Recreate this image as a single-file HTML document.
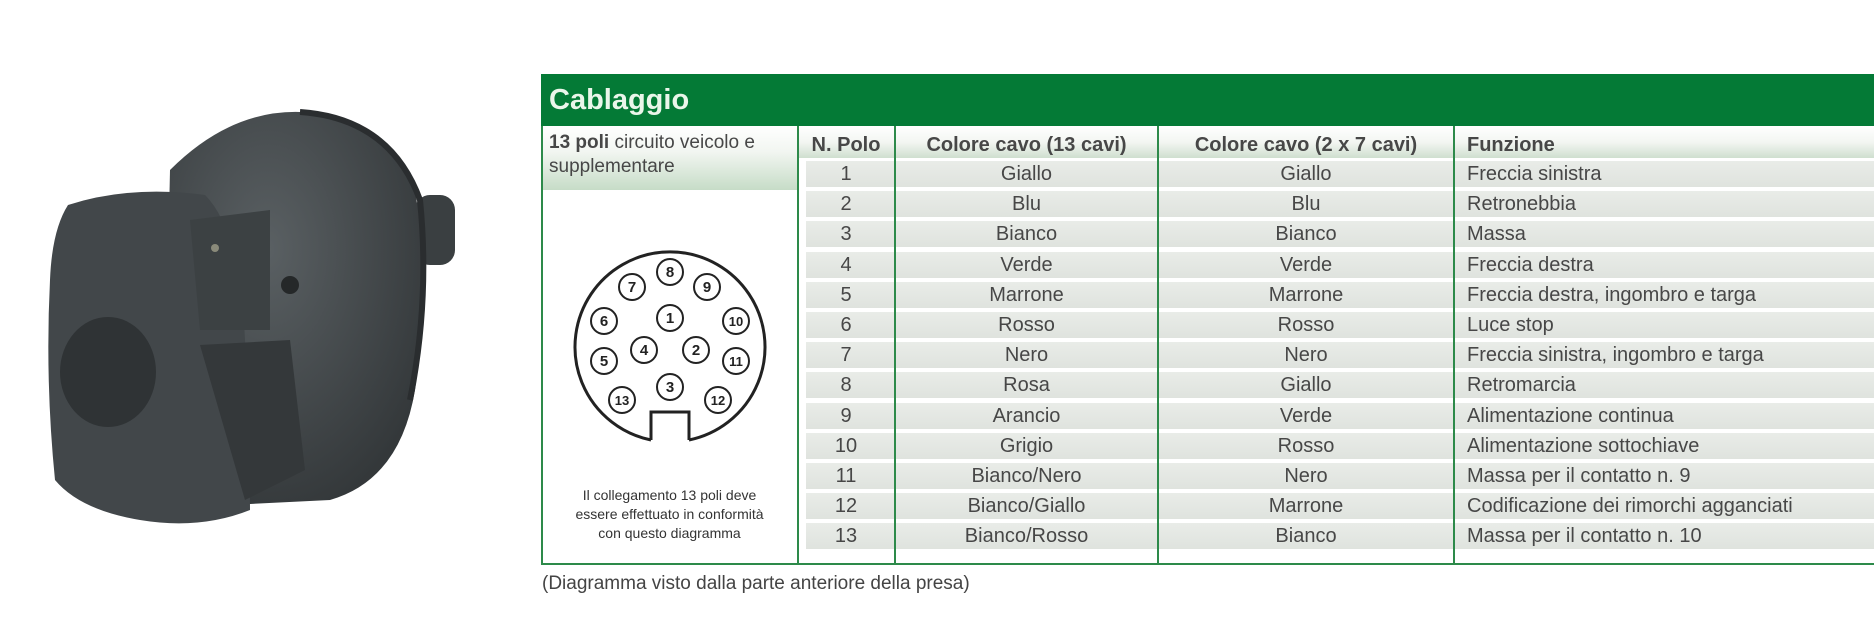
<!DOCTYPE html>
<html><head><meta charset="utf-8"><style>
*{margin:0;padding:0;box-sizing:border-box}
body{width:1874px;height:632px;background:#fff;position:relative;overflow:hidden;font-family:"Liberation Sans Narrow","Liberation Sans",sans-serif;color:#474747}
.a{position:absolute;white-space:nowrap}
.row{position:absolute;left:806px;width:1068px;height:26px;background:linear-gradient(#e9ece8,#dfe3de)}
.c{position:absolute;font-size:20px;line-height:26px;text-align:center}
.vl{position:absolute;top:126px;height:438px;width:2px;background:#2d8a4a;z-index:5}
</style></head><body>
<svg class="a" style="left:0;top:0" width="520" height="632">
 <defs><radialGradient id="g" cx="0.4" cy="0.35" r="0.8"><stop offset="0" stop-color="#5a6063"/><stop offset="1" stop-color="#2e3234"/></radialGradient></defs>
 <rect x="415" y="195" width="40" height="70" rx="15" fill="#3a3f41"/>
 <path d="M170 170 Q230 110 300 112 Q380 115 415 190 Q430 280 415 390 Q400 480 330 500 L230 505 Q180 470 165 400 Z" fill="url(#g)"/>
 <path d="M300 112 Q390 118 420 200 Q430 300 410 400" fill="none" stroke="#2a2d2f" stroke-width="6"/>
 <path d="M68 205 Q130 185 205 195 Q240 230 245 340 Q250 440 250 510 Q200 530 140 520 Q80 510 55 480 Q45 380 50 280 Q52 230 68 205 Z" fill="#42474a"/>
 <ellipse cx="108" cy="372" rx="48" ry="55" fill="#2f3335"/>
 <path d="M190 220 L270 210 L270 330 L200 330 Z" fill="#3c4143"/>
 <path d="M200 345 L290 340 L305 470 L245 500 Z" fill="#34383a"/>
 <circle cx="215" cy="248" r="4" fill="#8a8a7a"/>
 <circle cx="290" cy="285" r="9" fill="#252829"/>
</svg>

<div class="a" style="left:541px;top:74px;width:1333px;height:52px;background:#047a36"></div>
<div class="a" style="left:549px;top:80px;font-size:29px;font-weight:bold;color:#eaf6ea;line-height:40px">Cablaggio</div>

<div class="a" style="left:541px;top:126px;width:257px;height:64px;background:linear-gradient(#ffffff,#f2f6f1 40%,#c6dcc7)"></div>
<div class="a" style="left:798px;top:126px;width:1076px;height:32px;background:linear-gradient(#ffffff,#f3f6f2 50%,#cfdfcf)"></div>
<div class="a" style="left:549px;top:131px;font-size:19px;line-height:24px"><b>13 poli</b> circuito veicolo e<br>supplementare</div>

<div class="c" style="left:798px;width:96px;top:132px;font-weight:bold">N. Polo</div>
<div class="c" style="left:896px;width:261px;top:132px;font-weight:bold">Colore cavo (13 cavi)</div>
<div class="c" style="left:1159px;width:294px;top:132px;font-weight:bold">Colore cavo (2 x 7 cavi)</div>
<div class="a" style="left:1467px;top:132px;font-size:20px;line-height:26px;font-weight:bold">Funzione</div>

<div id="rows"></div>
<script>
var d=[["1","Giallo","Giallo","Freccia sinistra"],["2","Blu","Blu","Retronebbia"],["3","Bianco","Bianco","Massa"],["4","Verde","Verde","Freccia destra"],["5","Marrone","Marrone","Freccia destra, ingombro e targa"],["6","Rosso","Rosso","Luce stop"],["7","Nero","Nero","Freccia sinistra, ingombro e targa"],["8","Rosa","Giallo","Retromarcia"],["9","Arancio","Verde","Alimentazione continua"],["10","Grigio","Rosso","Alimentazione sottochiave"],["11","Bianco/Nero","Nero","Massa per il contatto n. 9"],["12","Bianco/Giallo","Marrone","Codificazione dei rimorchi agganciati"],["13","Bianco/Rosso","Bianco","Massa per il contatto n. 10"]];
var h="";
for(var i=0;i<13;i++){var t=161+i*30.2;
h+='<div class="row" style="top:'+t+'px"></div>';
h+='<div class="c" style="left:798px;width:96px;top:'+t+'px">'+d[i][0]+'</div>';
h+='<div class="c" style="left:896px;width:261px;top:'+t+'px">'+d[i][1]+'</div>';
h+='<div class="c" style="left:1159px;width:294px;top:'+t+'px">'+d[i][2]+'</div>';
h+='<div class="a" style="left:1467px;font-size:20px;line-height:26px;top:'+t+'px">'+d[i][3]+'</div>';}
document.getElementById("rows").innerHTML=h;
</script>

<div class="a" style="left:541px;top:126px;width:2px;height:438px;background:#2d8a4a;z-index:5"></div>
<div class="vl" style="left:797px"></div>
<div class="vl" style="left:894px"></div>
<div class="vl" style="left:1157px"></div>
<div class="vl" style="left:1453px"></div>
<div class="a" style="left:541px;top:563px;width:1333px;height:2px;background:#2d8a4a;z-index:5"></div>

<svg class="a" style="left:541px;top:0" width="257" height="632" font-family="Liberation Sans" font-weight="bold" font-size="15" text-anchor="middle" fill="#222">
 <path d="M110 440 A95 95 0 1 1 148 440" fill="none" stroke="#222" stroke-width="3"/>
 <path d="M110 440 L110 412 L148 412 L148 440" fill="none" stroke="#222" stroke-width="3"/>
 <g fill="#fff" stroke="#222" stroke-width="2">
  <circle cx="129" cy="272" r="13"/><circle cx="91" cy="287" r="13"/><circle cx="166" cy="287" r="13"/>
  <circle cx="63" cy="321" r="13"/><circle cx="195" cy="321" r="13"/><circle cx="129" cy="318" r="13"/>
  <circle cx="63" cy="361" r="13"/><circle cx="195" cy="361" r="13"/><circle cx="103" cy="350" r="13"/>
  <circle cx="155" cy="350" r="13"/><circle cx="129" cy="387" r="13"/><circle cx="81" cy="400" r="13"/><circle cx="177" cy="400" r="13"/>
 </g>
 <text x="129" y="277">8</text><text x="91" y="292">7</text><text x="166" y="292">9</text>
 <text x="63" y="326">6</text><text x="195" y="326" font-size="13">10</text><text x="129" y="323">1</text>
 <text x="63" y="366">5</text><text x="195" y="366" font-size="13">11</text><text x="103" y="355">4</text>
 <text x="155" y="355">2</text><text x="129" y="392">3</text><text x="81" y="405" font-size="13">13</text><text x="177" y="405" font-size="13">12</text>
</svg>

<div class="a" style="left:541px;top:486px;width:257px;text-align:center;font-size:14px;line-height:19px;color:#333">Il collegamento 13 poli deve<br>essere effettuato in conformità<br>con questo diagramma</div>
<div class="a" style="left:542px;top:572px;font-size:19px;line-height:24px;color:#444">(Diagramma visto dalla parte anteriore della presa)</div>
</body></html>
